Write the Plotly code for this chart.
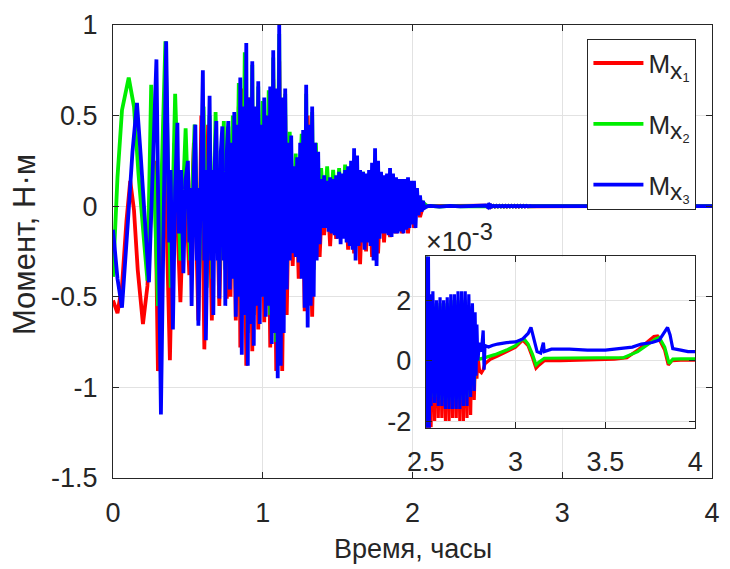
import plotly.graph_objects as go

# ---------------- data (time in hours, moment in N·m) ----------------
names = ["M<sub><span style='font-size:135%'>x</span><sub>1</sub></sub>",
         "M<sub><span style='font-size:135%'>x</span><sub>2</sub></sub>",
         "M<sub><span style='font-size:135%'>x</span><sub>3</sub></sub>"]
colors = ["#ff0000", "#00ee00", "#0000ff"]

# Mx1 (red), main part
t_mx1 = [0.0, 0.03, 0.06, 0.09, 0.115, 0.14, 0.165, 0.20, 0.23, 0.26, 0.28, 0.30, 0.34, 0.38, 0.41, 0.45,
         0.48, 0.51, 0.54, 0.57, 0.59, 0.61, 0.635, 0.66, 0.685, 0.71, 0.735, 0.76,
         0.77, 0.785, 0.80, 0.82, 0.84, 0.85, 0.87, 0.89, 0.91, 0.93,
         0.95, 0.97, 0.99, 1.01, 1.03, 1.05, 1.07, 1.09, 1.11, 1.13,
         1.15, 1.16, 1.18, 1.20, 1.22, 1.24, 1.26, 1.28, 1.30, 1.33,
         1.35, 1.38, 1.40, 1.41, 1.43, 1.45, 1.47, 1.49, 1.51, 1.53,
         1.55, 1.57, 1.59, 1.61, 1.63, 1.65, 1.67, 1.69, 1.71, 1.73,
         1.75, 1.77, 1.79, 1.81, 1.83, 1.85, 1.87, 1.89, 1.91, 1.93,
         1.95, 1.97, 1.99, 2.01, 2.03, 2.05, 2.07, 2.10]
mx1 = [-0.52, -0.59, -0.44, -0.08, 0.14, -0.02, -0.35, -0.65, -0.44, 0.10, 0.25, -0.91, 0.50, -0.85, 0.35, -0.53,
       0.20, -0.38, 0.35, -0.63, 0.50, -0.79, 0.45, -0.63, 0.35, -0.55, 0.35, -0.51,
       0.35, -0.50, 0.40, -0.63, 0.55, -0.78, 0.65, -0.88, 0.60, -0.80,
       0.50, -0.68, 0.45, -0.64, 0.50, -0.78, 0.70, -0.91, 0.80, -0.91,
       0.50, -0.60, 0.30, -0.33, 0.20, -0.40, 0.35, -0.58, 0.50, -0.61,
       0.25, -0.28, 0.10, -0.16, 0.10, -0.22, 0.10, -0.18, 0.10, -0.14,
       0.10, -0.24, 0.12, -0.26, 0.15, -0.32, 0.12, -0.25, 0.15, -0.28,
       0.15, -0.26, 0.10, -0.20, 0.08, -0.17, 0.08, -0.15, 0.06, -0.15,
       0.06, -0.15, 0.05, -0.12, 0.03, -0.06, 0.0, 0.0]

# Mx2 (green), main part
t_mx2 = [0.0, 0.03, 0.06, 0.105, 0.14, 0.17, 0.21, 0.23, 0.255, 0.30, 0.35, 0.385, 0.415, 0.45, 0.485,
         0.515, 0.545, 0.575, 0.605, 0.625, 0.645, 0.665, 0.685, 0.71, 0.74, 0.75,
         0.77, 0.785, 0.80, 0.82, 0.84, 0.86, 0.88, 0.90, 0.93, 0.94,
         0.97, 0.98, 1.00, 1.01, 1.04, 1.05, 1.07, 1.09, 1.11, 1.12,
         1.15, 1.16, 1.18, 1.20, 1.22, 1.23, 1.26, 1.28, 1.29, 1.30,
         1.33, 1.34, 1.355, 1.37, 1.39, 1.41, 1.43, 1.45, 1.47, 1.49,
         1.51, 1.53, 1.55, 1.57, 1.59, 1.61, 1.63, 1.65, 1.67, 1.69,
         1.71, 1.73, 1.75, 1.77, 1.79, 1.81, 1.83, 1.85, 1.87, 1.89,
         1.91, 1.93, 1.95, 1.97, 1.99, 2.01, 2.03, 2.05, 2.07, 2.10]
mx2 = [-0.39, 0.16, 0.53, 0.71, 0.55, 0.18, -0.22, -0.41, 0.67, -0.55, 0.91, -0.45, 0.62, -0.30, 0.43,
       -0.30, 0.45, -0.40, 0.55, -0.45, 0.50, -0.40, 0.52, -0.35, 0.47, -0.35,
       0.44, -0.30, 0.50, -0.45, 0.68, -0.60, 0.85, -0.70, 0.78, -0.60,
       0.66, -0.50, 0.58, -0.50, 0.64, -0.60, 0.82, -0.75, 0.95, -0.70,
       0.62, -0.35, 0.41, -0.15, 0.29, -0.20, 0.40, -0.40, 0.62, -0.50,
       0.52, -0.35, 0.35, -0.10, 0.21, -0.05, 0.22, -0.08, 0.20, -0.05,
       0.21, -0.06, 0.23, -0.10, 0.22, -0.10, 0.20, -0.10, 0.19, -0.08,
       0.17, -0.10, 0.20, -0.08, 0.14, -0.05, 0.12, -0.04, 0.10, -0.03,
       0.09, -0.03, 0.08, -0.02, 0.07, -0.01, 0.05, 0.0, 0.02, 0.0]

# Mx3 (blue), main part
t_mx3 = [0.0, 0.03, 0.06, 0.07, 0.10, 0.13, 0.16, 0.185, 0.21, 0.24, 0.29, 0.32, 0.355,
         0.375, 0.385, 0.40, 0.415, 0.43, 0.44, 0.455, 0.47, 0.485, 0.50, 0.51, 0.515,
         0.525, 0.54, 0.55, 0.56, 0.565, 0.57, 0.585, 0.60, 0.61, 0.615, 0.62, 0.635,
         0.645, 0.655, 0.66, 0.67, 0.68, 0.69, 0.70, 0.705, 0.71, 0.72, 0.73, 0.74,
         0.745, 0.75, 0.76,
         0.77, 0.78, 0.79, 0.80, 0.81, 0.82, 0.83, 0.84, 0.85, 0.86,
         0.87, 0.88, 0.89, 0.90, 0.91, 0.92, 0.93, 0.94, 0.95, 0.96,
         0.97, 0.98, 0.99, 1.00, 1.01, 1.02, 1.03, 1.04, 1.05, 1.06,
         1.07, 1.08, 1.09, 1.10, 1.11, 1.12, 1.13, 1.14, 1.15, 1.16,
         1.17, 1.18, 1.19, 1.20, 1.21, 1.22, 1.23, 1.24, 1.25, 1.26,
         1.27, 1.28, 1.29, 1.30, 1.31, 1.32, 1.33, 1.34, 1.35, 1.36,
         1.37, 1.38, 1.39, 1.40, 1.41, 1.42, 1.43, 1.44, 1.45, 1.46,
         1.47, 1.48, 1.49, 1.50, 1.51, 1.52, 1.53, 1.54, 1.55, 1.56,
         1.57, 1.58, 1.59, 1.60, 1.61, 1.62, 1.63, 1.64, 1.65, 1.66,
         1.67, 1.68, 1.69, 1.70, 1.71, 1.72, 1.73, 1.74, 1.75, 1.76,
         1.77, 1.78, 1.79, 1.80, 1.81, 1.82, 1.83, 1.84, 1.85, 1.86,
         1.87, 1.88, 1.89, 1.90, 1.91, 1.92, 1.93, 1.94, 1.95, 1.96,
         1.97, 1.98, 1.99, 2.00, 2.01, 2.02, 2.03, 2.04, 2.05, 2.06,
         2.07, 2.08, 2.10]
mx3 = [-0.13, -0.40, -0.56, -0.45, -0.08, 0.30, 0.57, 0.28, -0.07, -0.42, 0.81, -1.15, 0.91,
       -0.20, 0.20, -0.68, 0.10, 0.46, -0.15, 0.20, -0.37, 0.15, 0.25, -0.20, 0.10,
       -0.55, 0.20, 0.45, -0.30, 0.10, -0.66, 0.20, 0.75, -0.30, 0.20, -0.74, 0.25,
       0.61, -0.30, 0.20, -0.60, 0.25, 0.47, -0.30, 0.20, -0.51, 0.30, 0.44, -0.30,
       0.15, -0.55, 0.30,
       0.47, -0.46, 0.35, -0.40, 0.52, -0.61, 0.45, -0.50, 0.71, -0.82,
       0.55, -0.60, 0.90, -0.88, 0.60, -0.65, 0.80, -0.77, 0.55, -0.55,
       0.69, -0.65, 0.45, -0.50, 0.60, -0.61, 0.50, -0.55, 0.66, -0.76,
       0.86, -0.70, 0.65, -0.95, 1.00, -0.88, 0.60, -0.70, 0.65, -0.46,
       0.35, -0.30, 0.39, -0.26, 0.22, -0.28, 0.27, -0.31, 0.35, -0.40,
       0.42, -0.56, 0.67, -0.67, 0.45, -0.55, 0.55, -0.50, 0.35, -0.30,
       0.30, -0.21, 0.15, -0.12, 0.17, -0.12, 0.14, -0.14, 0.16, -0.15,
       0.15, -0.16, 0.17, -0.18, 0.19, -0.21, 0.18, -0.18, 0.20, -0.20,
       0.22, -0.22, 0.25, -0.24, 0.32, -0.30, 0.28, -0.22, 0.20, -0.20,
       0.19, -0.24, 0.18, -0.20, 0.20, -0.22, 0.24, -0.30, 0.32, -0.33,
       0.25, -0.18, 0.19, -0.15, 0.17, -0.15, 0.18, -0.16, 0.21, -0.17,
       0.18, -0.15, 0.16, -0.15, 0.15, -0.14, 0.15, -0.15, 0.15, -0.13,
       0.16, -0.12, 0.14, -0.10, 0.14, -0.12, 0.10, -0.05, 0.06, -0.03,
       0.03, -0.01, 0.0]

# Tails after 2.1 h, in units of 1e-3 N·m (shown in the inset)
TAIL_SCALE = 1e-3
tail_t_mx1 = [2.12, 2.18, 2.25, 2.32, 2.40, 2.46, 2.49,
              2.500, 2.505, 2.510, 2.515, 2.520, 2.525, 2.530,
              2.54, 2.55, 2.56, 2.57, 2.58, 2.59, 2.60, 2.61, 2.62, 2.63, 2.64, 2.65,
              2.66, 2.67, 2.68, 2.69, 2.70, 2.71, 2.72, 2.73, 2.74, 2.75, 2.76, 2.77,
              2.78, 2.785, 2.79, 2.80, 2.81, 2.82, 2.83, 2.86, 2.90, 2.95,
              3.00, 3.04, 3.07, 3.095, 3.114, 3.13, 3.16, 3.25, 3.40,
              3.55, 3.62, 3.68, 3.74, 3.77, 3.79, 3.83, 3.85, 3.87, 3.92, 4.00]
tail_mx1 = [2.0, -2.0, 1.5, -1.5, 1.0, -1.0, 3.0,
            -2.6, 2.0, -2.6, 2.0, -2.6, 1.5, -2.2,
            1.8, -2.0, 1.7, -1.9, 1.8, -1.9, 1.8, -2.0, 1.8, -2.0, 1.8, -1.9,
            1.8, -1.9, 1.8, -2.0, 1.8, -2.0, 1.8, -1.9, 1.8, -1.8, 1.5, -1.3,
            0.8, -0.6, 0.2, -0.35, -0.4, -0.3, -0.1, 0.05, 0.15, 0.3,
            0.45, 0.68, 0.5, 0.1, -0.25, -0.15, 0.0, 0.0, 0.02,
            0.05, 0.1, 0.35, 0.65, 0.8, 0.82, 0.35, -0.14, 0.0, 0.02, 0.02]

tail_t_mx2 = [2.12, 2.18, 2.25, 2.32, 2.40, 2.46, 2.49,
              2.500, 2.505, 2.510, 2.515, 2.520, 2.525, 2.530,
              2.54, 2.55, 2.56, 2.57, 2.58, 2.59, 2.60, 2.61, 2.62, 2.63, 2.64, 2.65,
              2.66, 2.67, 2.68, 2.69, 2.70, 2.71, 2.72, 2.73, 2.74, 2.75, 2.76, 2.77,
              2.78, 2.79, 2.80, 2.83, 2.885, 2.95, 3.00, 3.03, 3.05, 3.07,
              3.095, 3.114, 3.13, 3.16, 3.30, 3.45, 3.60, 3.68, 3.74, 3.78,
              3.80, 3.83, 3.855, 3.875, 3.92, 4.00]
tail_mx2 = [2.0, -2.0, 1.5, -1.5, 1.0, -1.0, 3.0,
            -1.0, 3.5, 0.5, 2.0, -1.0, 2.0, -1.2,
            1.9, -1.2, 1.8, -1.2, 1.9, -1.3, 1.9, -1.3, 1.9, -1.3, 2.0, -1.3,
            2.0, -1.3, 2.0, -1.3, 2.0, -1.3, 2.0, -1.2, 1.8, -1.0, 1.5, -0.8,
            0.2, 0.1, 0.05, 0.1, 0.2, 0.35, 0.5, 0.68, 0.7, 0.55,
            0.2, -0.14, -0.05, 0.08, 0.08, 0.08, 0.1, 0.3, 0.55, 0.72,
            0.77, 0.45, -0.1, 0.05, 0.06, 0.06]

tail_t_mx3 = [2.12, 2.18, 2.25, 2.32, 2.40, 2.46, 2.49,
              2.500, 2.505, 2.510, 2.515, 2.520, 2.525, 2.530,
              2.54, 2.55, 2.56, 2.57, 2.58, 2.59, 2.60, 2.61, 2.62, 2.63, 2.64, 2.65,
              2.66, 2.67, 2.68, 2.69, 2.70, 2.71, 2.72, 2.73, 2.74, 2.75, 2.76, 2.77,
              2.775, 2.78, 2.785, 2.79, 2.80, 2.81, 2.82, 2.825, 2.83,
              2.85, 2.87, 2.90, 2.95, 3.00, 3.04, 3.07, 3.086, 3.10, 3.12,
              3.14, 3.155, 3.16, 3.20, 3.30, 3.40, 3.50, 3.60, 3.65, 3.70,
              3.76, 3.80, 3.82, 3.846, 3.86, 3.875, 3.92, 3.96, 4.00]
tail_mx3 = [2.0, -2.0, 1.5, -1.5, 1.0, -1.0, 4.0,
            -2.6, 4.0, -2.6, 3.8, -2.4, 2.2, -1.5,
            2.3, -1.4, 2.0, -1.5, 2.1, -1.5, 2.0, -1.6, 2.1, -1.6, 2.2, -1.6,
            2.2, -1.6, 2.3, -1.6, 2.3, -1.5, 2.3, -1.5, 2.2, -1.2, 1.9, -1.0,
            1.6, -0.5, 1.2, 0.0, 0.6, 0.3, 1.0, -0.3, 0.5,
            0.45, 0.5, 0.55, 0.6, 0.62, 0.72, 0.9, 1.1, 0.8, 0.3,
            0.25, 0.6, 0.3, 0.38, 0.38, 0.35, 0.35, 0.40, 0.45, 0.55,
            0.60, 0.68, 0.85, 1.1, 0.85, 0.4, 0.35, 0.3, 0.3]

# Axis ticks
main_x_ticks = [0, 1, 2, 3, 4]
main_x_labels = ["0", "1", "2", "3", "4"]
main_y_ticks = [-1.5, -1, -0.5, 0, 0.5, 1]
main_y_labels = ["-1.5", "-1", "-0.5", "0", "0.5", "1"]
inset_x_ticks = [2.5, 3, 3.5, 4]
inset_x_labels = ["2.5", "3", "3.5", "4"]
inset_y_ticks = [-2, 0, 2]
inset_y_labels = ["-2", "0", "2"]

# ---------------- figure ----------------
INK = "#262626"
GRID = "#e2e2e2"
FONT = "Liberation Sans, Arial, sans-serif"
TICK_SIZE = 27
TITLE_SIZE = 27

series = [
    (names[0], colors[0], t_mx1, mx1, tail_t_mx1, tail_mx1),
    (names[1], colors[1], t_mx2, mx2, tail_t_mx2, tail_mx2),
    (names[2], colors[2], t_mx3, mx3, tail_t_mx3, tail_mx3),
]

fig = go.Figure()
for nm, col, t, v, tt, tv in series:
    fig.add_trace(go.Scatter(
        x=list(t) + list(tt), y=list(v) + [val * TAIL_SCALE for val in tv],
        mode="lines", line=dict(color=col, width=3.8), name=nm, legendgroup=nm,
        xaxis="x", yaxis="y"))
for nm, col, t, v, tt, tv in series:
    fig.add_trace(go.Scatter(
        x=tt, y=tv, mode="lines", line=dict(color=col, width=3.2),
        name=nm, legendgroup=nm, showlegend=False, xaxis="x2", yaxis="y2"))

axis_common = dict(ticks="inside", ticklen=6, tickcolor=INK, showline=True, linecolor=INK,
                   linewidth=1, mirror="ticks", showgrid=True, gridcolor=GRID, gridwidth=1,
                   zeroline=False, tickfont=dict(family=FONT, size=TICK_SIZE, color=INK))

fig.update_layout(
    width=730, height=569,
    margin=dict(l=113, r=10, t=18, b=91),
    paper_bgcolor="white", plot_bgcolor="white",
    font=dict(family=FONT, size=TICK_SIZE, color=INK),
    xaxis=dict(domain=[0, 1], range=[0, 4], tickmode="array", tickvals=main_x_ticks,
               ticktext=main_x_labels, ticklabelstandoff=11, **axis_common),
    yaxis=dict(domain=[0, 1], range=[-1.5, 1], tickmode="array", tickvals=main_y_ticks,
               ticktext=main_y_labels, ticklabelstandoff=9, **axis_common),
    xaxis2=dict(domain=[0.522, 0.972], anchor="y2", range=[2.5, 4], tickmode="array",
                tickvals=inset_x_ticks, ticktext=inset_x_labels, ticklabelstandoff=10,
                **axis_common),
    yaxis2=dict(domain=[0.111, 0.489], anchor="x2", range=[-2.22, 3.45], tickmode="array",
                tickvals=inset_y_ticks, ticktext=inset_y_labels, ticklabelstandoff=8,
                **axis_common),
    legend=dict(x=0.974, xanchor="right", y=0.97, yanchor="top", bgcolor="white",
                bordercolor=INK, borderwidth=1, font=dict(family=FONT, size=26, color=INK),
                tracegroupgap=24, itemwidth=50),
    annotations=[
        dict(text="Время, часы", xref="paper", yref="paper", x=0.5, y=-0.157,
             xanchor="center", yanchor="middle", showarrow=False,
             font=dict(family=FONT, size=TITLE_SIZE, color=INK)),
        dict(text="Момент, Н·м", xref="paper", yref="paper", x=-0.148, y=0.515,
             xanchor="center", yanchor="middle", textangle=-90, showarrow=False,
             font=dict(family=FONT, size=31, color=INK)),
        dict(text="×10<sup><span style='font-size:125%'>-3</span></sup>", xref="paper",
             yref="paper", x=0.52, y=0.53, xanchor="left", yanchor="middle",
             showarrow=False, font=dict(family=FONT, size=27, color=INK)),
    ],
)

fig.write_html("out.html")
